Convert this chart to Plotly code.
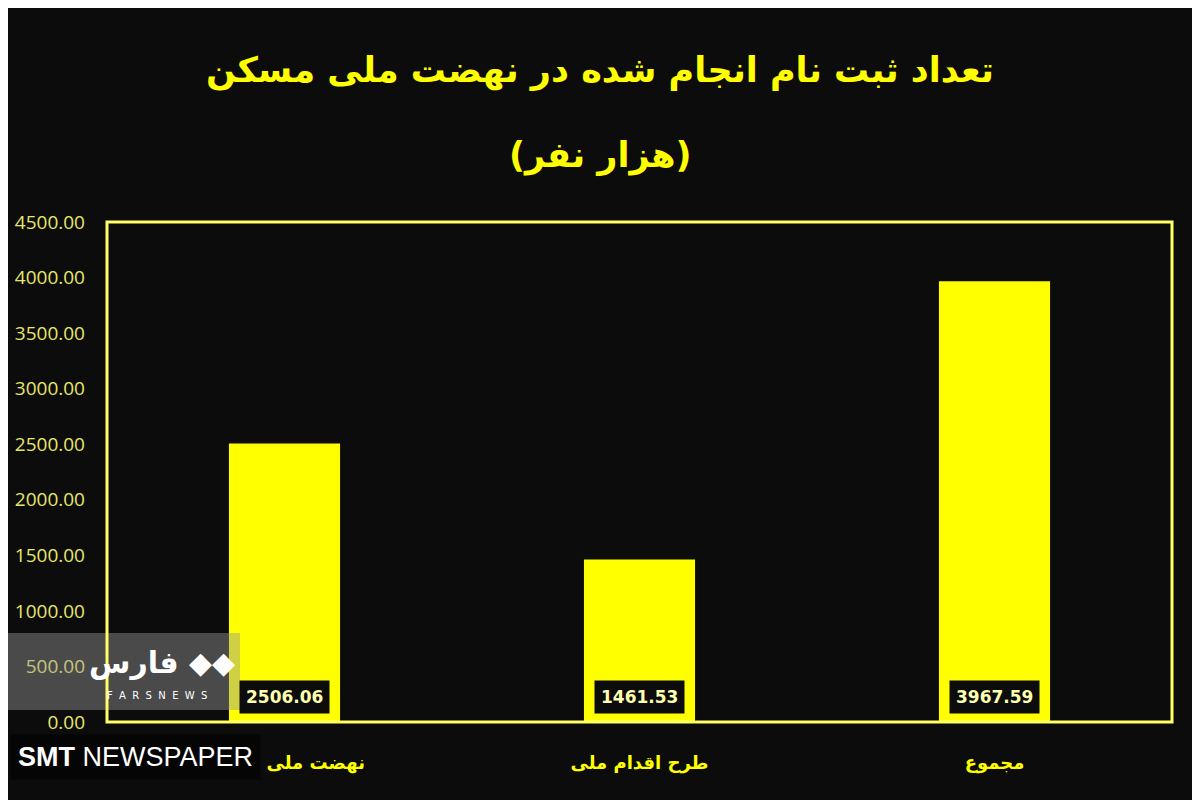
import plotly.graph_objects as go

categories = ["نهضت ملی مسکن", "طرح اقدام ملی", "مجموع"]
values = [2506.06, 1461.53, 3967.59]
tick_vals = [0, 500, 1000, 1500, 2000, 2500, 3000, 3500, 4000, 4500]
tick_text = ["%.2f" % v for v in tick_vals]

BG = "#0c0c0c"
YEL = "#ffff00"

# plot area in page pixels
PX0, PX1, PY0, PY1 = 107, 1172, 222, 722
PW, PH = PX1 - PX0, PY1 - PY0


def px(x):
    return (x - PX0) / PW


def py(y):
    return (PY1 - y) / PH


fig = go.Figure()
fig.add_trace(go.Bar(
    x=categories, y=values,
    marker=dict(color=YEL, line=dict(width=0)),
    hoverinfo="skip", showlegend=False,
))

for c, v in zip(categories, values):
    fig.add_annotation(
        x=c, y=0, xref="x", yref="y", yanchor="bottom", yshift=8,
        text="<b>%.2f</b>" % v, showarrow=False,
        font=dict(family="DejaVu Sans", size=17, color="#ffffb0"),
        bgcolor="#0c0c0c", borderpad=6,
    )

# title
fig.add_annotation(x=px(600), y=1, xref="paper", yref="paper", yanchor="middle",
                   xanchor="center", yshift=152,
                   text="<b>تعداد ثبت نام انجام شده در نهضت ملی مسکن</b>",
                   showarrow=False, font=dict(family="DejaVu Sans", size=35, color=YEL))
fig.add_annotation(x=px(600), y=1, xref="paper", yref="paper", yanchor="middle",
                   xanchor="center", yshift=67, text="<b>(هزار نفر)</b>",
                   showarrow=False, font=dict(family="DejaVu Sans", size=35, color=YEL))

# watermarks
fig.add_shape(type="rect", xref="paper", yref="paper", x0=px(0), x1=px(240),
              y0=py(710), y1=py(633), fillcolor="rgba(150,150,150,0.45)",
              line=dict(width=0), layer="above")
fig.add_annotation(x=px(162), y=py(662), xref="paper", yref="paper",
                   xanchor="center", yanchor="middle",
                   text="<b>فارس ◆◆</b>", showarrow=False,
                   font=dict(family="DejaVu Sans", size=30, color="white"))
fig.add_annotation(x=px(157), y=py(695), xref="paper", yref="paper",
                   xanchor="center", yanchor="middle",
                   text="F  A  R  S  N  E  W  S", showarrow=False,
                   font=dict(family="DejaVu Sans", size=10, color="white"))
fig.add_annotation(x=px(10), y=py(757), xref="paper", yref="paper",
                   xanchor="left", yanchor="middle",
                   text="<b>SMT</b> NEWSPAPER", showarrow=False,
                   font=dict(family="Liberation Sans", size=27, color="white"),
                   bgcolor="#050505", borderpad=7)

fig.update_layout(
    width=1192, height=792,
    paper_bgcolor=BG, plot_bgcolor=BG,
    margin=dict(l=PX0 - 8, r=1200 - PX1, t=PY0 - 8, b=800 - PY1),
    bargap=0.687,
    xaxis=dict(showgrid=False, showline=False, zeroline=False, automargin=False,
               tickfont=dict(family="DejaVu Sans", size=18, color=YEL),
               ticks="", ticklabelstandoff=28,
               tickprefix="<b>", ticksuffix="</b>"),
    yaxis=dict(range=[0, 4500], tickvals=tick_vals, ticktext=tick_text,
               showgrid=False, zeroline=False, showline=False, automargin=False,
               tickfont=dict(family="Open Sans", size=19, color="#e6e66a"),
               ticks="", ticklabelstandoff=21),
)
fig.add_shape(type="rect", xref="paper", yref="paper", x0=0, x1=1, y0=0, y1=1,
              line=dict(color="#ffff66", width=3), layer="above")

fig.write_html("out.html")
